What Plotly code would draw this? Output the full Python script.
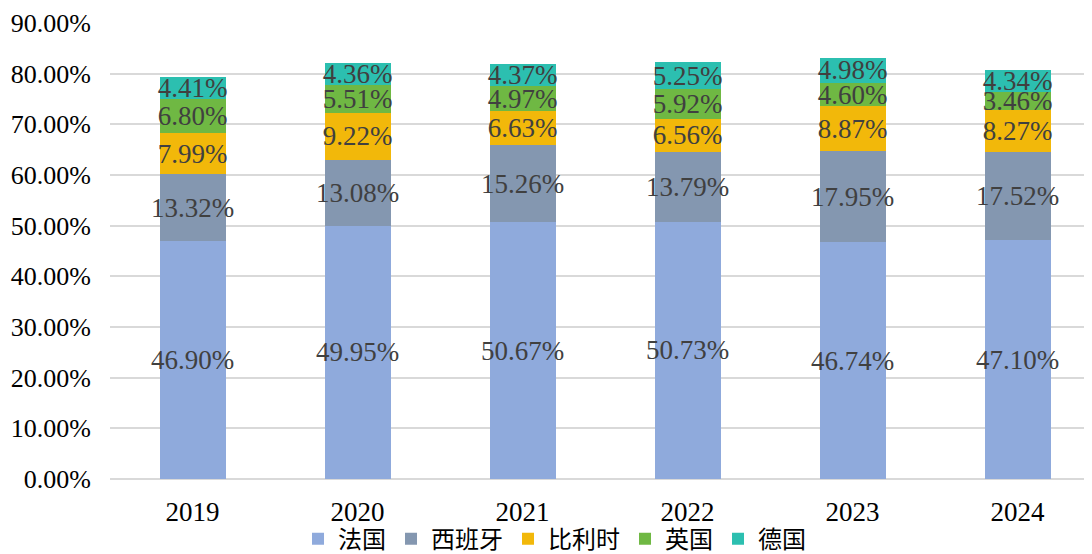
import plotly.graph_objects as go

years = ["2019", "2020", "2021", "2022", "2023", "2024"]
series_names = ["法国", "西班牙", "比利时", "英国", "德国"]
france = [46.90, 49.95, 50.67, 50.73, 46.74, 47.10]
spain = [13.32, 13.08, 15.26, 13.79, 17.95, 17.52]
belgium = [7.99, 9.22, 6.63, 6.56, 8.87, 8.27]
uk = [6.80, 5.51, 4.97, 5.92, 4.60, 3.46]
germany = [4.41, 4.36, 4.37, 5.25, 4.98, 4.34]
colors = ["#8FAADC", "#8497B0", "#F2B80A", "#6FB843", "#2CBFB0"]

font_fam = "Liberation Serif, Times New Roman, Noto Sans CJK SC, serif"

fig = go.Figure()
for name, vals, col in zip(series_names, [france, spain, belgium, uk, germany], colors):
    fig.add_trace(go.Bar(
        x=years, y=vals, name=name, marker=dict(color=col, line=dict(width=0)),
        texttemplate="%{y:.2f}%", textposition="inside", insidetextanchor="middle",
        constraintext="none", textangle=0,
        textfont=dict(family=font_fam, size=27, color="#404040"),
        hoverinfo="skip",
    ))

fig.update_layout(
    barmode="stack", bargap=0.6,
    width=1092, height=554,
    margin=dict(l=102, r=0, t=15, b=83),
    paper_bgcolor="white", plot_bgcolor="white",
    font=dict(family=font_fam, size=27, color="black"),
    showlegend=True,
    legend=dict(orientation="h", traceorder="normal", x=0.449, xanchor="center", y=-0.132, yanchor="middle",
                font=dict(family="Noto Sans CJK SC, Liberation Serif", size=24, color="black"),
                itemwidth=30, tracegroupgap=0, bgcolor="rgba(0,0,0,0)"),
    uniformtext=dict(mode=False),
)
fig.update_xaxes(range=[-0.5, 5.5], showgrid=False, showline=False, ticks="", automargin=False,
                 tickfont=dict(family=font_fam, size=27, color="black"), ticklabelstandoff=14)
fig.update_yaxes(range=[0, 90], dtick=10, tickformat=".2f", ticksuffix="%", automargin=False,
                 showgrid=True, gridcolor="#D9D9D9", gridwidth=1.5,
                 zeroline=True, zerolinecolor="#D9D9D9", zerolinewidth=1.5,
                 tickfont=dict(family=font_fam, size=26, color="black"), ticklabelstandoff=18)

fig.write_html("out.html")
